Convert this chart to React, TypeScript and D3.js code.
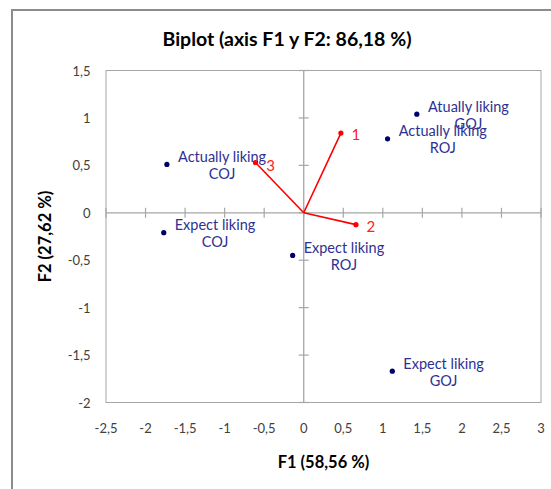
import React from "react";
import * as d3 from "d3";

const W = 551;
const H = 489;

const title = "Biplot (axis F1 y F2: 86,18 %)";
const xTitle = "F1 (58,56 %)";
const yTitle = "F2 (27,62 %)";

const xTicks = [-2.5, -2, -1.5, -1, -0.5, 0, 0.5, 1, 1.5, 2, 2.5, 3];
const yTicks = [-2, -1.5, -1, -0.5, 0, 0.5, 1, 1.5];

const obsNames = [
  ["Atually liking", "GOJ"],
  ["Actually liking", "ROJ"],
  ["Actually liking", "COJ"],
  ["Expect liking", "COJ"],
  ["Expect liking", "ROJ"],
  ["Expect liking", "GOJ"],
];
const obsF1 = [1.43, 1.06, -1.73, -1.77, -0.14, 1.12];
const obsF2 = [1.04, 0.78, 0.51, -0.21, -0.45, -1.67];

const varNames = ["1", "2", "3"];
const varF1 = [0.47, 0.66, -0.61];
const varF2 = [0.84, -0.125, 0.53];

const FONT = "Lato, 'Open Sans', sans-serif";
const fmt = (v: number) => String(v).replace(".", ",");

let ctx: CanvasRenderingContext2D | null = null;
function measure(text: string, font: string): number {
  if (!ctx) ctx = document.createElement("canvas").getContext("2d");
  if (!ctx) return text.length * 7;
  ctx.font = font;
  return ctx.measureText(text).width;
}

export default function App() {
  const left = 106, right = 541, top = 70.5, bottom = 402.5;
  const x = d3.scaleLinear().domain([-2.5, 3]).range([left, right]);
  const y = d3.scaleLinear().domain([-2, 1.5]).range([bottom, top]);
  const x0 = x(0), y0 = y(0);
  const labelFontSize = 14.5;
  const labelFont = `${labelFontSize}px Lato`;

  return (
    <svg
      width={W}
      height={H}
      style={{ position: "absolute", left: 0, top: 0, background: "#fff" }}
      fontFamily={FONT}
    >
      <rect x={0} y={0} width={W} height={H} fill="#fff" />
      {/* outer frame */}
      <rect x={12} y={10} width={W + 20} height={H + 20} fill="#fff" stroke="#8c8c8c" strokeWidth={2} />
      {/* title */}
      <text x={287} y={38} textAnchor="middle" dominantBaseline="central" fontSize={19.5} fontWeight="bold" fill="#000">
        {title}
      </text>
      {/* plot area */}
      <rect x={left} y={top} width={right - left} height={bottom - top} fill="#fff" stroke="#a6a6a6" strokeWidth={1} />
      {/* axes at zero */}
      <line x1={left} x2={right} y1={y0} y2={y0} stroke="#a6a6a6" strokeWidth={1.3} />
      <line x1={x0} x2={x0} y1={top} y2={bottom} stroke="#a6a6a6" strokeWidth={1.3} />
      {xTicks.map((t) => (
        <line key={"xt" + t} x1={x(t)} x2={x(t)} y1={y0 - 5} y2={y0 + 5} stroke="#a6a6a6" strokeWidth={1.2} />
      ))}
      {yTicks.map((t) => (
        <line key={"yt" + t} x1={x0 - 5} x2={x0 + 5} y1={y(t)} y2={y(t)} stroke="#a6a6a6" strokeWidth={1.2} />
      ))}
      {/* tick labels */}
      {xTicks.map((t) => (
        <text key={"xl" + t} x={x(t)} y={428} textAnchor="middle" dominantBaseline="central" fontSize={13} fill="#404040">
          {fmt(t)}
        </text>
      ))}
      {yTicks.map((t) => (
        <text key={"yl" + t} x={90.5} y={y(t)} textAnchor="end" dominantBaseline="central" fontSize={13} fill="#404040">
          {fmt(t)}
        </text>
      ))}
      {/* axis titles */}
      <text x={323.5} y={462} textAnchor="middle" dominantBaseline="central" fontSize={16.5} fontWeight="bold" fill="#000">
        {xTitle}
      </text>
      <text
        transform={`translate(45, 236.5) rotate(-90)`}
        textAnchor="middle"
        dominantBaseline="central"
        fontSize={16.5}
        fontWeight="bold"
        fill="#000"
      >
        {yTitle}
      </text>
      {/* variable vectors */}
      {varNames.map((n, i) => (
        <g key={"v" + n}>
          <line x1={x0} y1={y0} x2={x(varF1[i])} y2={y(varF2[i])} stroke="#ff0000" strokeWidth={1.6} />
          <circle cx={x(varF1[i])} cy={y(varF2[i])} r={2.6} fill="#ff0000" />
          <text
            x={x(varF1[i]) + 15}
            y={y(varF2[i]) + (i === 2 ? 2.5 : 1)}
            textAnchor="middle"
            dominantBaseline="central"
            fontSize={15}
            fill="#ff2020"
          >
            {n}
          </text>
        </g>
      ))}
      {/* observations */}
      {obsNames.map((lines, i) => {
        const px = x(obsF1[i]);
        const py = y(obsF2[i]);
        const bw = Math.max(...lines.map((l) => measure(l, labelFont)));
        const cx = px + 11 + bw / 2;
        return (
          <g key={"o" + i}>
            <circle cx={px} cy={py} r={2.6} fill="#00006a" />
            {lines.map((l, j) => (
              <text
                key={j}
                x={cx}
                y={py - 8 + j * 17}
                textAnchor="middle"
                dominantBaseline="central"
                fontSize={labelFontSize}
                fill="#2e3192"
              >
                {l}
              </text>
            ))}
          </g>
        );
      })}
    </svg>
  );
}
